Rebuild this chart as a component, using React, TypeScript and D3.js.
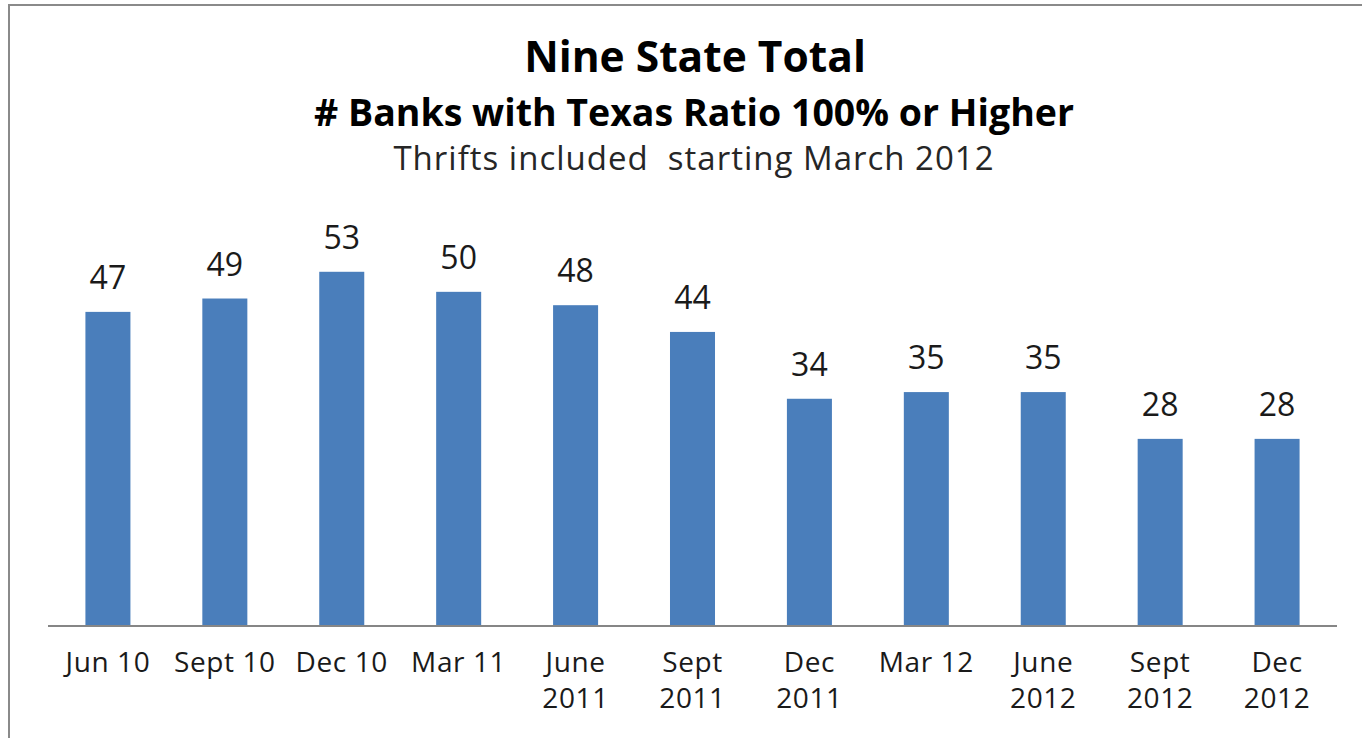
import React from "react";
import * as d3 from "d3";

const categories: string[][] = [
  ["Jun 10"],
  ["Sept 10"],
  ["Dec 10"],
  ["Mar 11"],
  ["June", "2011"],
  ["Sept", "2011"],
  ["Dec", "2011"],
  ["Mar 12"],
  ["June", "2012"],
  ["Sept", "2012"],
  ["Dec", "2012"],
];
const values: number[] = [47, 49, 53, 50, 48, 44, 34, 35, 35, 28, 28];
const titleLines: string[] = [
  "Nine State Total",
  "# Banks with Texas Ratio 100% or Higher",
  "Thrifts included  starting March 2012",
];

const W = 1362;
const H = 738;
const FONT = "'Open Sans', 'DejaVu Sans', sans-serif";

export default function App() {
  const keys = categories.map((c) => c.join(" "));
  const x = d3
    .scaleBand<string>()
    .domain(keys)
    .range([48, 1337])
    .paddingInner(0.615)
    .paddingOuter(0.32);
  const y = d3.scaleLinear().domain([0, 60]).range([626, 225]);
  const baseY = y(0);
  const cx = (i: number) => (x(keys[i]) as number) + x.bandwidth() / 2;

  return (
    <svg
      width={W}
      height={H}
      style={{ position: "absolute", left: 0, top: 0, background: "#fff" }}
    >
      <rect x={0} y={0} width={W} height={H} fill="#fff" />
      <rect
        x={9}
        y={5}
        width={W + 40}
        height={H + 40}
        fill="none"
        stroke="#8a8a8a"
        strokeWidth={2}
      />
      <g fontFamily={FONT} textAnchor="middle">
        <text x={695} y={72} fontSize={42.5} fontWeight="bold" fill="#000">
          {titleLines[0]}
        </text>
        <text x={694} y={126} fontSize={37.5} fontWeight="bold" fill="#000">
          {titleLines[1]}
        </text>
        <text
          x={694}
          y={170}
          fontSize={33}
          letterSpacing={1}
          fill="#262626"
          style={{ whiteSpace: "pre" }}
        >
          {titleLines[2]}
        </text>
      </g>
      <g>
        {values.map((v, i) => (
          <rect
            key={keys[i]}
            x={x(keys[i])}
            y={y(v)}
            width={x.bandwidth()}
            height={baseY - y(v)}
            fill="#4a7ebb"
          />
        ))}
      </g>
      <line
        x1={x.range()[0]}
        x2={x.range()[1]}
        y1={baseY}
        y2={baseY}
        stroke="#868686"
        strokeWidth={2}
      />
      <g fontFamily={FONT} textAnchor="middle" fill="#1a1a1a">
        {values.map((v, i) => (
          <text key={keys[i]} x={cx(i)} y={y(v) - 23} fontSize={32}>
            {v}
          </text>
        ))}
      </g>
      <g
        fontFamily={FONT}
        textAnchor="middle"
        fill="#1a1a1a"
        fontSize={28}
        letterSpacing={0.6}
      >
        {categories.map((lines, i) => (
          <text key={keys[i]} x={cx(i)} y={672}>
            {lines.map((ln, j) => (
              <tspan key={j} x={cx(i)} y={672 + j * 36}>
                {ln}
              </tspan>
            ))}
          </text>
        ))}
      </g>
    </svg>
  );
}
